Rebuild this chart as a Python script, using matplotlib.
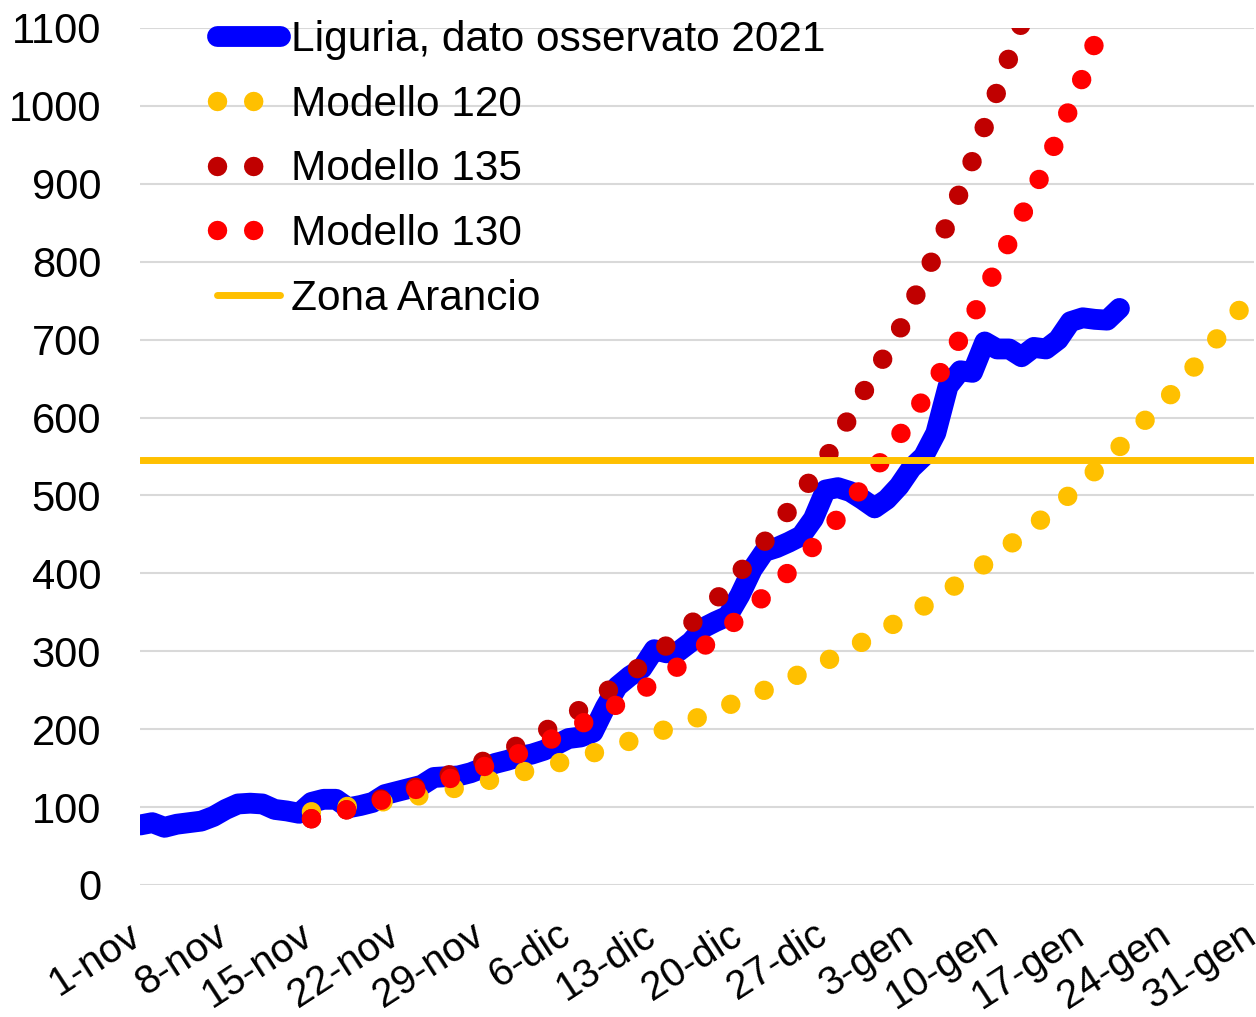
import matplotlib
matplotlib.use("Agg")
import matplotlib.pyplot as plt
from matplotlib.transforms import ScaledTranslation

# days counted from 1-nov (day 0) to 31-gen (day 91)
tick_days = [0, 7, 14, 21, 28, 35, 42, 49, 56, 63, 70, 77, 84, 91]
tick_labels = ["1-nov", "8-nov", "15-nov", "22-nov", "29-nov", "6-dic", "13-dic",
               "20-dic", "27-dic", "3-gen", "10-gen", "17-gen", "24-gen", "31-gen"]

# observed data, one value per day from 1-nov
liguria = [77, 80, 74, 78, 80, 82, 88, 97, 104, 105, 104, 97, 95, 92, 106, 110,
           110, 99, 102, 106, 116, 120, 124, 128, 138, 139, 140, 144, 150, 156,
           160, 165, 168, 173, 180, 188, 190, 196, 228, 255, 268, 278, 302, 298,
           300, 312, 330, 338, 345, 372, 405, 428, 433, 440, 448, 470, 507, 510,
           505, 495, 484, 495, 512, 535, 550, 580, 640, 660, 658, 697, 688, 688,
           678, 690, 688, 700, 723, 728, 726, 725, 740]

m120_days = [14, 17, 20, 23, 26, 29, 32, 35, 38, 41, 44, 47, 50, 53, 56, 59, 62,
             65, 68, 71, 74, 77, 80, 82, 84, 86, 88, 90, 91]
m120_vals = [94, 101, 107, 115, 125, 136, 148, 160, 174, 190, 205, 224, 243, 264,
             287, 312, 339, 367, 400, 436, 474, 516, 562, 595, 626, 663, 702, 742, 777]

m135_days = [14, 17, 20, 23, 26, 29, 32, 35, 38, 41, 44, 47, 50, 53, 56, 59, 62,
             65, 68, 71, 73]
m135_vals = [85, 97, 112, 128, 146, 165, 188, 215, 247, 282, 320, 365, 420, 481,
             546, 630, 711, 812, 930, 1063, 1150]

m130_days = [14, 17, 20, 23, 26, 29, 32, 35, 38, 41, 44, 47, 50, 53, 56, 59, 62,
             65, 68, 71, 74, 77, 79]
m130_vals = [85, 97, 110, 125, 140, 157, 175, 198, 223, 250, 281, 318, 356, 402,
             451, 511, 576, 648, 729, 826, 924, 1037, 1125]

zona_arancio = 545

plt.rcParams["font.family"] = ["Liberation Sans", "DejaVu Sans"]

fig = plt.figure(figsize=(12.56, 10.17), dpi=100)
ax = fig.add_axes([0.1115, 0.1298, 0.887, 0.8427])

dot_style = dict(linewidth=14, linestyle=(0, (0.001, 1.86)), dash_capstyle="round")

ax.plot(range(len(liguria)), liguria, color="#0000FF", linewidth=15,
        solid_capstyle="round", solid_joinstyle="round", zorder=2,
        label="Liguria, dato osservato 2021")
ax.plot(m120_days, m120_vals, color="#FFC000", zorder=3, label="Modello 120", **dot_style)
ax.plot(m135_days, m135_vals, color="#C00000", zorder=4, label="Modello 135", **dot_style)
ax.plot(m130_days, m130_vals, color="#FF0000", zorder=5, label="Modello 130", **dot_style)
ax.plot([0, 91], [zona_arancio, zona_arancio], color="#FFC000", linewidth=5,
        solid_capstyle="round", zorder=6, label="Zona Arancio")

ax.set_xlim(0, 91)
ax.set_ylim(0, 1100)
ax.set_yticks(range(0, 1101, 100))
ax.set_xticks(tick_days)
ax.set_xticklabels(tick_labels, rotation=33, ha="right", va="top",
                   rotation_mode="anchor")
ax.tick_params(axis="both", length=0)
ax.tick_params(axis="y", pad=28, labelsize=30)
ax.tick_params(axis="x", pad=22, labelsize=29)
# nudge the rotated date labels a little to the left
shift = ScaledTranslation(-9 / 72, 0, fig.dpi_scale_trans)
for lbl in ax.get_xticklabels():
    lbl.set_transform(lbl.get_transform() + shift)
ax.grid(axis="y", color="#D9D9D9", linewidth=1.5, zorder=0)
ax.set_axisbelow(True)
for side in ax.spines.values():
    side.set_visible(False)

ax.legend(loc="upper left", bbox_to_anchor=(0.069, 1.009), frameon=False,
          fontsize=30.5, handlelength=1.5, handletextpad=0.25,
          labelspacing=0.58, borderpad=0, borderaxespad=0)

fig.savefig("out.png", dpi=100)
